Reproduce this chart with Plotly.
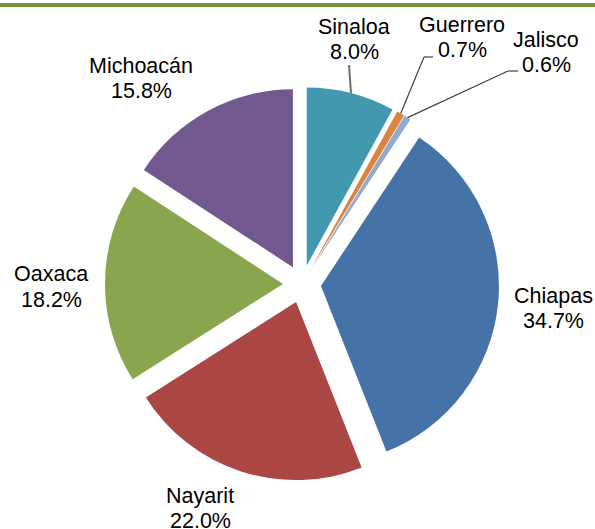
import math
import plotly.graph_objects as go

# Share by state (%), clockwise from 12 o'clock
states = ["Sinaloa", "Guerrero", "Jalisco", "Chiapas", "Nayarit", "Oaxaca", "Michoacán"]
shares = [8.0, 0.7, 0.6, 34.7, 22.0, 18.2, 15.8]
colors = ["#4198AF", "#DB843D", "#93A9CF", "#4572A7", "#AA4643", "#89A54E", "#71588F"]

W, H = 595, 529
CX, CY = 302, 284          # pie centre (px)
R = 178                    # slice radius (px)
PULL = 0.107               # explode fraction of radius
BOX = 2 * R * (1 + PULL)   # side of the square the pie occupies

# Label placement: (centre x, name line y, value line y) in px
label_pos = {
    "Sinaloa": (354, 26.5, 52.5),
    "Guerrero": (462, 25, 50),
    "Jalisco": (546, 40, 65),
    "Chiapas": (553, 296, 321),
    "Nayarit": (200, 496, 521),
    "Oaxaca": (51, 274, 300),
    "Michoacán": (141, 66, 91.5),
}
# Slices whose labels are joined to the wedge by a leader line: elbow point (px)
leaders = {
    "Sinaloa": [(349, 65)],
    "Guerrero": [(433, 57), (424, 57)],
    "Jalisco": [(518, 71), (508, 71)],
}


def px(x, y):
    return x / W, 1 - y / H


fig = go.Figure(
    go.Pie(
        labels=states,
        values=shares,
        sort=False,
        direction="clockwise",
        rotation=0,
        pull=PULL,
        marker=dict(colors=colors, line=dict(width=0)),
        textinfo="none",
        hoverinfo="label+percent",
        domain=dict(
            x=[(CX - BOX / 2) / W, (CX + BOX / 2) / W],
            y=[1 - (CY + BOX / 2) / H, 1 - (CY - BOX / 2) / H],
        ),
    )
)

font = dict(family="Liberation Sans, Arial, sans-serif", size=21.5, color="#000000")
annotations = []
for name, val in zip(states, shares):
    x, y1, y2 = label_pos[name]
    for text, y in ((name, y1), (f"{val:.1f}%", y2)):
        ax, ay = px(x, y)
        annotations.append(dict(
            x=ax, y=ay, xref="paper", yref="paper", text=text, showarrow=False,
            xanchor="center", yanchor="middle", font=font,
        ))

shapes = [
    # olive rule across the top
    dict(type="rect", xref="paper", yref="paper", x0=0, x1=1,
         y0=1 - 7 / H, y1=1 - 3 / H, fillcolor="#77933C", line=dict(width=0)),
]

# Leader lines run from the outer arc midpoint of the exploded slice
total = sum(shares)
cum = 0.0
for name, val in zip(states, shares):
    mid = (cum + val / 2) / total * 2 * math.pi
    cum += val
    if name not in leaders:
        continue
    rr = R * (1 + PULL)
    ex, ey = CX + rr * math.sin(mid), CY - rr * math.cos(mid)
    pts = leaders[name] + [(ex, ey)]
    for (x0, y0), (x1, y1) in zip(pts[:-1], pts[1:]):
        a0, b0 = px(x0, y0)
        a1, b1 = px(x1, y1)
        shapes.append(dict(type="line", xref="paper", yref="paper",
                           x0=a0, y0=b0, x1=a1, y1=b1,
                           line=dict(color="#404040", width=1.2)))
    if len(pts) == 2:
        shapes[-1]["line"] = dict(color="#6E6E6E", width=2)

fig.update_layout(
    width=W, height=H,
    margin=dict(l=0, r=0, t=0, b=0),
    paper_bgcolor="#FFFFFF",
    plot_bgcolor="#FFFFFF",
    showlegend=False,
    annotations=annotations,
    shapes=shapes,
)

fig.write_html("out.html")
